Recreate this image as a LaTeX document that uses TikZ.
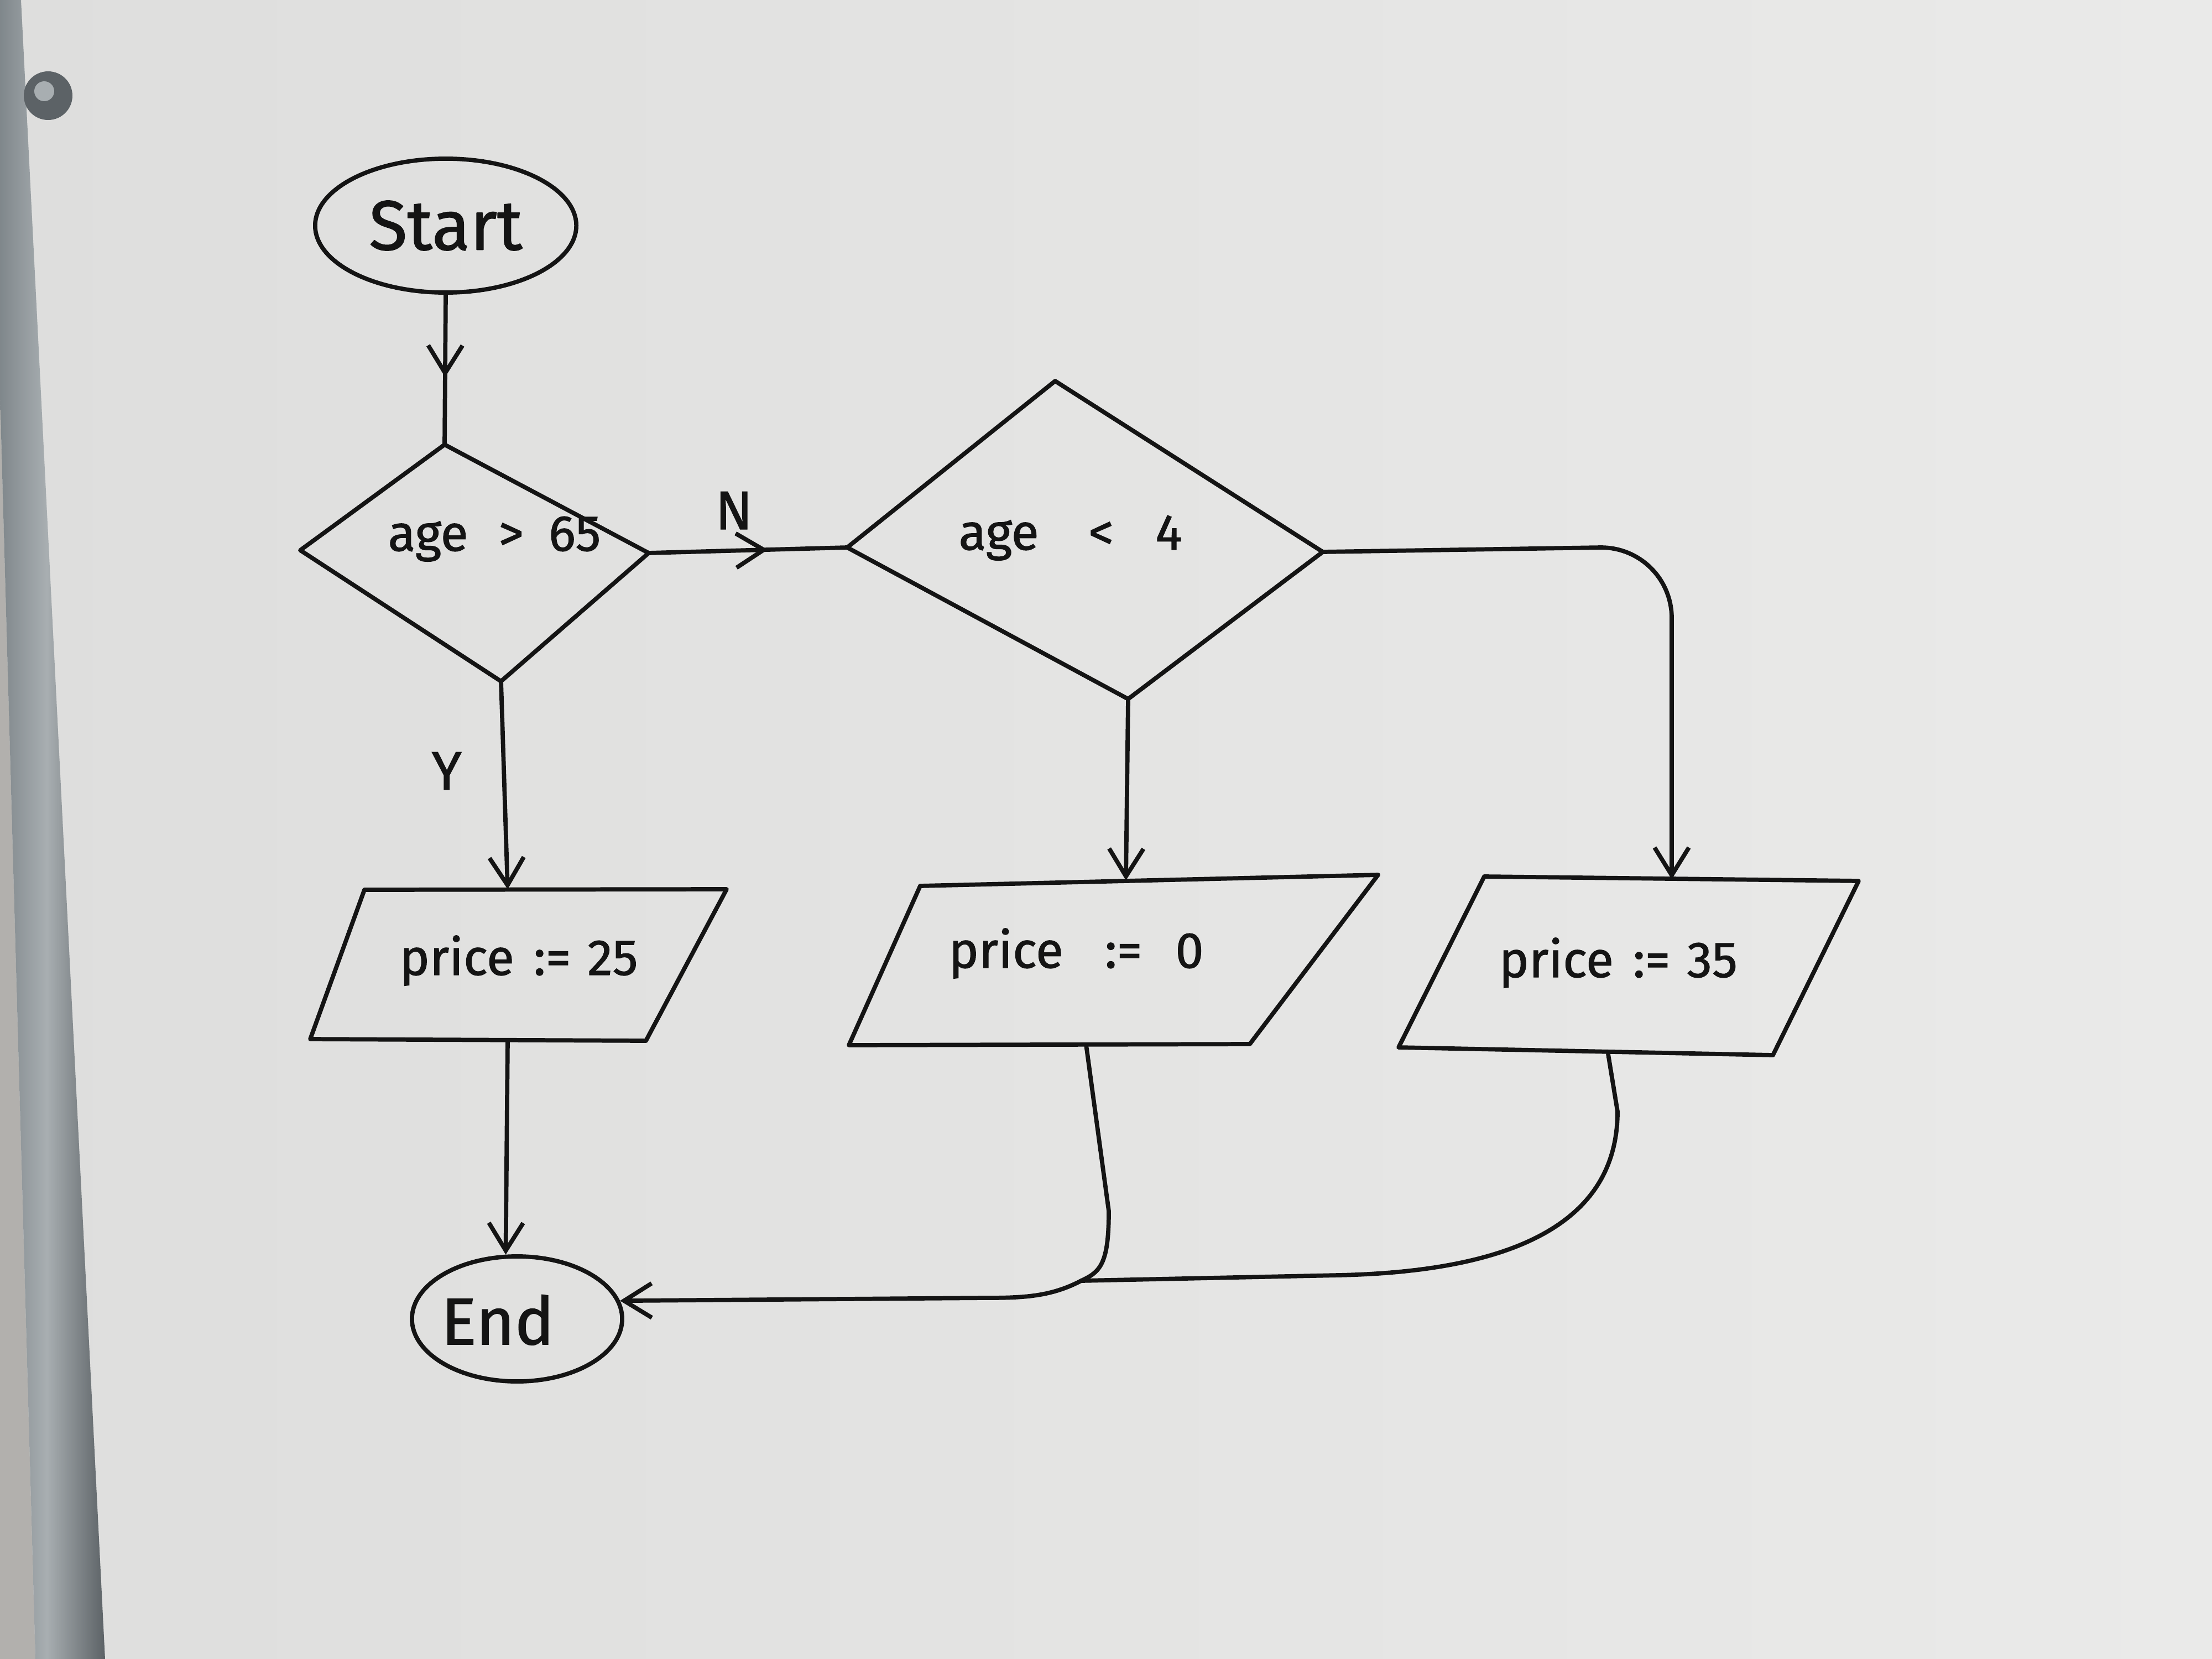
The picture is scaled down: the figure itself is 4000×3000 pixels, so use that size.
\documentclass[tikz,border=0pt]{standalone}
\usepackage{fontspec}
\setmainfont{Fira Sans}[FakeBold=1.2]
\usetikzlibrary{shapes.geometric,arrows.meta,decorations.markings}
\definecolor{boardL}{RGB}{222,222,221}
\definecolor{boardR}{RGB}{234,234,233}
\definecolor{wall}{RGB}{178,176,173}
\definecolor{metalA}{RGB}{118,126,130}
\definecolor{metalB}{RGB}{168,174,177}
\definecolor{metalC}{RGB}{92,98,102}
\definecolor{ink}{RGB}{20,20,20}
\tikzset{
  pen/.style={draw=ink, line width=2.2pt, line join=round, line cap=round},
  conn/.style={pen},
  arr/.style={pen, -{Straight Barb[length=0.5cm,width=0.62cm]}},
  midarr/.style={postaction={decorate}, decoration={markings,
      mark=at position #1 with {\arrow[ink, line width=2.2pt]{Straight Barb[length=0.5cm,width=0.62cm]}}}},
  midarr/.default=0.55,
  term/.style={ellipse, pen, inner sep=0pt},
  lbl/.style={inner sep=0pt, text=ink, font=\fontsize{26}{30}\selectfont},
  big/.style={font=\fontsize{36}{40}\selectfont, text=ink}
}
\begin{document}
\begin{tikzpicture}[x=0.01cm,y=-0.01cm]
\useasboundingbox (0,0) rectangle (4000,3000);
% whiteboard
\shade[left color=boardL, right color=boardR] (0,0) rectangle (4000,3000);
% frame on the left
\fill[wall] (0,714) -- (64,3000) -- (0,3000) -- cycle;
\shade[left color=metalA, right color=metalC, middle color=metalB] (-20,0) -- (38,0) -- (190,3000) -- (64,3000) -- cycle;
% screw
\fill[metalC] (87,173) circle[radius=44];
\fill[metalB] (80,165) circle[radius=18];

% terminals
\node[term, big, minimum width=4.72cm, minimum height=2.42cm] (start) at (806,408) {Start};
\node[term, minimum width=3.8cm, minimum height=2.26cm] (end) at (935,2385) {};
\node[big, inner sep=0pt, anchor=base, font=\fontsize{34}{40}\selectfont] (endtxt) at (900,2431) {End};

% decision 1
\coordinate (d1t) at (804,804);
\coordinate (d1r) at (1173,1000);
\coordinate (d1b) at (906,1232);
\coordinate (d1l) at (543,995);
\draw[pen] (d1t) -- (d1r) -- (d1b) -- (d1l) -- cycle;
\node[lbl, anchor=base west] (d1) at (701,996) {age\hspace{0.55cm}>\hspace{0.45cm}65};

% decision 2
\coordinate (d2t) at (1908,689);
\coordinate (d2r) at (2392,998);
\coordinate (d2b) at (2040,1264);
\coordinate (d2l) at (1532,990);
\draw[pen] (d2t) -- (d2r) -- (d2b) -- (d2l) -- cycle;
\node[lbl, anchor=base west] (d2) at (1733,994) {age\hspace{0.9cm}<\hspace{0.75cm}4};

% process 1
\coordinate (p1tl) at (659,1609);
\coordinate (p1tr) at (1314,1608);
\coordinate (p1br) at (1168,1882);
\coordinate (p1bl) at (561,1879);
\draw[pen] (p1tl) -- (p1tr) -- (p1br) -- (p1bl) -- cycle;
\node[lbl, anchor=base west] (p1) at (722,1763) {price\hspace{0.35cm}:=\hspace{0.3cm}25};

% process 2
\coordinate (p2tl) at (1664,1602);
\coordinate (p2tr) at (2492,1582);
\coordinate (p2br) at (2260,1888);
\coordinate (p2bl) at (1535,1890);
\draw[pen] (p2tl) -- (p2tr) -- (p2br) -- (p2bl) -- cycle;
\node[lbl, anchor=base west] (p2) at (1715,1750) {price\hspace{0.75cm}:=\hspace{0.6cm}0};

% process 3
\coordinate (p3tl) at (2684,1585);
\coordinate (p3tr) at (3361,1593);
\coordinate (p3br) at (3206,1908);
\coordinate (p3bl) at (2529,1894);
\draw[pen] (p3tl) -- (p3tr) -- (p3br) -- (p3bl) -- cycle;
\node[lbl, anchor=base west] (p3) at (2710,1767) {price\hspace{0.35cm}:=\hspace{0.3cm}35};

% attachment points
\coordinate (p1t) at (918,1608);
\coordinate (p2t) at (2036,1592);
\coordinate (p3t) at (3023,1590);
\coordinate (p1b) at (918,1881);
\coordinate (p2b) at (1964,1889);
\coordinate (p3b) at (2908,1906);
\coordinate (join) at (1955,2316);

% connectors
\draw[conn, midarr=0.55] (start.south) -- (d1t);
\draw[conn, midarr=0.6] (d1r) -- (d2l);
\node[lbl, anchor=base west, font=\fontsize{28}{32}\selectfont] (nlab) at (1293,957) {N};
\draw[arr] (d1b) -- (p1t);
\node[lbl, anchor=base west, font=\fontsize{28}{32}\selectfont] (ylab) at (780,1428) {Y};
\draw[arr] (d2b) -- (p2t);
\draw[arr, rounded corners=1.3cm] (d2r) -- (3023,988) -- (p3t);
\draw[arr] (p1b) -- (end.100);
\draw[conn] (p2b) -- (2005,2190) .. controls (2005,2285) and (1990,2300) .. (join);
\draw[conn] (p3b) -- (2925,2010) .. controls (2925,2230) and (2700,2300) .. (2420,2306) -- (join);
\draw[arr] (join) .. controls (1900,2345) and (1850,2347) .. (1780,2347) -- (end.10);
\end{tikzpicture}
\end{document}
